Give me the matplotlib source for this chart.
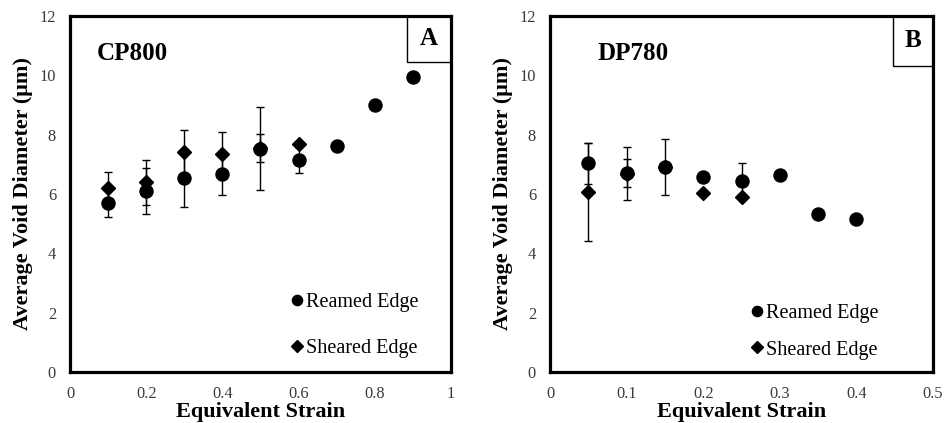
import matplotlib
matplotlib.use("Agg")
import matplotlib.pyplot as plt
from matplotlib.patches import Rectangle
from matplotlib.ticker import FuncFormatter, MultipleLocator

plt.rcParams['font.family'] = ['Liberation Serif', 'DejaVu Serif']

# CP800 (panel A)
cp_strain_reamed = [0.1, 0.2, 0.3, 0.4, 0.5, 0.6, 0.7, 0.8, 0.9]
cp_diam_reamed = [5.71, 6.10, 6.53, 6.66, 7.52, 7.15, 7.62, 9.00, 9.95]
cp_err_reamed = [0.50, 0.79, 0.97, 0.69, 1.40, 0.45, 0, 0, 0]
cp_strain_sheared = [0.1, 0.2, 0.3, 0.4, 0.5, 0.6]
cp_diam_sheared = [6.19, 6.39, 7.40, 7.36, 7.56, 7.68]
cp_err_sheared = [0.54, 0.75, 0.77, 0.72, 0.47, 0]

# DP780 (panel B)
dp_strain_reamed = [0.05, 0.1, 0.15, 0.2, 0.25, 0.3, 0.35, 0.4]
dp_diam_reamed = [7.03, 6.71, 6.92, 6.58, 6.44, 6.64, 5.33, 5.15]
dp_err_reamed = [0.68, 0.47, 0.95, 0, 0.60, 0, 0, 0]
dp_strain_sheared = [0.05, 0.1, 0.15, 0.2, 0.25]
dp_diam_sheared = [6.06, 6.69, 6.92, 6.03, 5.91]
dp_err_sheared = [1.66, 0.88, 0, 0, 0]

fig = plt.figure(figsize=(9.46, 4.23), dpi=100)
ax1 = fig.add_axes([0.074, 0.1206, 0.4027, 0.8416])
ax2 = fig.add_axes([0.5814, 0.1206, 0.4049, 0.8416])


def draw_panel(ax, xr, yr, er, xs, ys, es, xmax, xstep, name, tag, name_x,
               tag_box, leg_anchor, leg_spacing):
    ax.errorbar(xr, yr, yerr=er, fmt='none', ecolor='black', elinewidth=1.0,
                capsize=2.9, capthick=1.0, zorder=2)
    ax.errorbar(xs, ys, yerr=es, fmt='none', ecolor='black', elinewidth=1.0,
                capsize=2.9, capthick=1.0, zorder=2)
    h_s, = ax.plot(xs, ys, 'D', color='black', markersize=7.3, zorder=3,
                   label='Sheared Edge')
    h_r, = ax.plot(xr, yr, 'o', color='black', markersize=9.4, zorder=4,
                   label='Reamed Edge')

    ax.set_xlim(0, xmax)
    ax.set_ylim(0, 12)
    ax.xaxis.set_major_locator(MultipleLocator(xstep))
    ax.yaxis.set_major_locator(MultipleLocator(2))
    fmt = FuncFormatter(lambda v, p: f"{v:g}")
    ax.xaxis.set_major_formatter(fmt)
    ax.yaxis.set_major_formatter(fmt)
    ax.tick_params(length=0, labelsize=11.8, colors='#3a3a3a', pad=10)
    for s in ax.spines.values():
        s.set_linewidth(2.3)
        s.set_color('black')

    ax.set_xlabel('Equivalent Strain', fontsize=16, fontweight='bold', labelpad=0)
    ax.set_ylabel('Average Void Diameter (μm)', fontsize=16, fontweight='bold',
                  labelpad=5)

    ax.text(name_x, 0.896, name, transform=ax.transAxes, fontsize=18,
            fontweight='bold', va='center', ha='left')
    bx, by = tag_box
    ax.add_patch(Rectangle((bx, by), 1 - bx, 1 - by, transform=ax.transAxes,
                           fill=False, edgecolor='black', linewidth=1.0,
                           clip_on=False))
    ax.text((bx + 1) / 2, (by + 1) / 2, tag, transform=ax.transAxes,
            fontsize=18, fontweight='bold', ha='center', va='center')

    ax.legend([h_r, h_s], ['Reamed Edge', 'Sheared Edge'], loc='lower left',
              bbox_to_anchor=leg_anchor, frameon=False, fontsize=14.5,
              handlelength=0.6, handletextpad=0.15, borderpad=0,
              borderaxespad=0, labelspacing=leg_spacing, markerscale=0.78)


draw_panel(ax1, cp_strain_reamed, cp_diam_reamed, cp_err_reamed,
           cp_strain_sheared, cp_diam_sheared, cp_err_sheared,
           1.0, 0.2, 'CP800', 'A', 0.071, (0.884, 0.871), (0.58, 0.04), 1.3)
draw_panel(ax2, dp_strain_reamed, dp_diam_reamed, dp_err_reamed,
           dp_strain_sheared, dp_diam_sheared, dp_err_sheared,
           0.5, 0.1, 'DP780', 'B', 0.125, (0.896, 0.86), (0.525, 0.035), 0.85)

fig.savefig('out.png', dpi=100)
